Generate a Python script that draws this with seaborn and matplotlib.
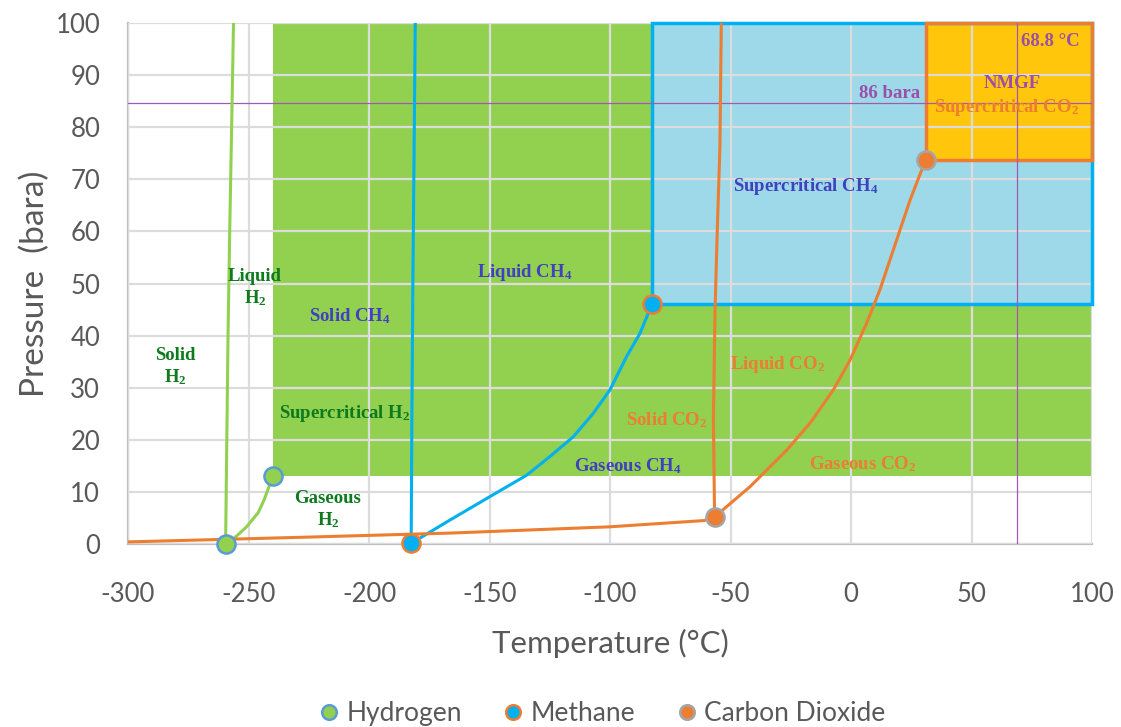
import numpy as np
import pandas as pd
import matplotlib
matplotlib.use("Agg")
import matplotlib.pyplot as plt
import seaborn as sns
from matplotlib.patches import Rectangle
from matplotlib.lines import Line2D

# ---------------- data ----------------
substances = ["Hydrogen", "Methane", "Carbon Dioxide"]

h2_melt_T = [-259.5, -259.0, -258.5, -257.8, -257.0, -256.2]
h2_melt_P = [0.07, 20, 40, 60, 80, 100.5]
h2_vap_T = [-259.3, -255.0, -250.8, -246.0, -243.5, -241.5, -240.0]
h2_vap_P = [0.07, 1.5, 3.3, 6.0, 8.5, 11.0, 13.0]

ch4_melt_T = [-182.5, -182.2, -181.8, -181.3, -180.8]
ch4_melt_P = [0.12, 25, 50, 75, 100.5]
ch4_vap_T = [-182.5, -166.4, -149.8, -134.6, -124.9, -115.2, -106.9, -100.0, -93.1, -87.6, -82.6]
ch4_vap_P = [0.12, 4.6, 9.1, 13.2, 16.8, 20.6, 25.1, 29.6, 36.0, 40.4, 46.0]

co2_sub_T = [-300, -227, -166, -100, -61, -56.6]
co2_sub_P = [0.4, 1.3, 2.1, 3.3, 4.5, 5.2]
co2_melt_T = [-56.6, -57.1, -56.4, -55.5, -54.4, -53.8]
co2_melt_P = [5.2, 24, 45, 60, 76, 100.5]
co2_vap_T = [-56.6, -41.9, -26.7, -17.0, -7.3, -0.4, 6.5, 12.0, 18.9, 24.5, 31.0]
co2_vap_P = [5.2, 11.0, 18.0, 23.2, 29.6, 35.3, 42.4, 48.8, 58.3, 66.0, 73.8]

triple_T = [-259.3, -182.5, -56.6]
triple_P = [0.07, 0.12, 5.2]
crit_T = [-240.0, -82.6, 31.0]
crit_P = [13.0, 46.0, 73.8]

ref_P = 84.7     # "86 bara" line as drawn
ref_T = 68.7     # "68.8 °C" line

x_ticks = [-300, -250, -200, -150, -100, -50, 0, 50, 100]
y_ticks = [0, 10, 20, 30, 40, 50, 60, 70, 80, 90, 100]

region_labels = ["Liquid\nH$_2$", "Solid\nH$_2$", "Supercritical H$_2$", "Gaseous\nH$_2$",
                 "Solid CH$_4$", "Liquid CH$_4$", "Supercritical CH$_4$", "Gaseous CH$_4$",
                 "Solid CO$_2$", "Liquid CO$_2$", "Gaseous CO$_2$",
                 "NMGF", "Supercritical CO$_2$", "86 bara", "68.8 °C"]
label_T = [-247.3, -280.5, -210, -217, -207.9, -135.3, -18.7, -92.5,
           -76.3, -30.3, 5, 66.8, 64.7, 15.8, 82.6]
label_P = [49.1, 34.0, 25.1, 6.5, 43.8, 52.2, 68.7, 15.0,
           23.8, 34.5, 15.4, 88.3, 83.7, 86.4, 96.4]
label_group = ["H2", "H2", "H2", "H2", "CH4", "CH4", "CH4", "CH4",
               "CO2", "CO2", "CO2", "ref", "CO2", "ref", "ref"]

# ---------------- style ----------------
GREEN = "#92D050"
BLUE = "#00B0F0"
ORANGE = "#ED7D31"
GRAY = "#A5A5A5"
LIGHTBLUE = "#9DD9E8"
GOLD = "#FFC60B"
PURPLE = "#A05AB4"
TXT = "#595959"
label_colors = {"H2": "#0E7A1E", "CH4": "#4141C0", "CO2": ORANGE, "ref": "#9B4FA8"}

sns.set_theme(style="white")
plt.rcParams["font.family"] = ["Lato", "DejaVu Sans"]
plt.rcParams["mathtext.fontset"] = "custom"
plt.rcParams["mathtext.rm"] = "Liberation Serif:bold"
plt.rcParams["mathtext.it"] = "Liberation Serif:bold"
plt.rcParams["mathtext.bf"] = "Liberation Serif:bold"
plt.rcParams["mathtext.default"] = "rm"

fig = plt.figure(figsize=(11.21, 7.27), dpi=100)
ax = fig.add_axes([128 / 1121, 1 - 544 / 727, (1092 - 128) / 1121, (544 - 23) / 727])

# ---------------- curves ----------------
rows = []
def add(T, P, sub, branch):
    for t, p in zip(T, P):
        rows.append({"T": t, "P": p, "substance": sub, "branch": branch})

add(h2_melt_T, h2_melt_P, "Hydrogen", "h2m")
add(h2_vap_T, h2_vap_P, "Hydrogen", "h2v")
add(ch4_melt_T, ch4_melt_P, "Methane", "ch4m")
add(ch4_vap_T, ch4_vap_P, "Methane", "ch4v")
add(co2_sub_T, co2_sub_P, "Carbon Dioxide", "co2s")
add(co2_melt_T, co2_melt_P, "Carbon Dioxide", "co2m")
add(co2_vap_T, co2_vap_P, "Carbon Dioxide", "co2v")
df = pd.DataFrame(rows)

palette = {"Hydrogen": GREEN, "Methane": BLUE, "Carbon Dioxide": ORANGE}

# ---------------- region fills from critical points ----------------
xmax, ymax = x_ticks[-1], y_ticks[-1]
fills = [GREEN, LIGHTBLUE, GOLD]
edges = [None, BLUE, ORANGE]
for i in range(3):
    w, h = xmax - crit_T[i], ymax - crit_P[i]
    ax.add_patch(Rectangle((crit_T[i], crit_P[i]), w, h, facecolor=fills[i],
                           edgecolor="none", zorder=0.3 + 0.05 * i))
    if edges[i] is not None:
        ax.add_patch(Rectangle((crit_T[i], crit_P[i]), w, h, facecolor="none",
                               edgecolor=edges[i], linewidth=2.5, zorder=2.6 + 0.05 * i,
                               clip_on=False))

sns.lineplot(data=df, x="T", y="P", hue="substance", units="branch", estimator=None,
             sort=False, palette=palette, linewidth=2.2, legend=False, ax=ax, zorder=3)

# reference lines
ax.axhline(ref_P, color=PURPLE, linewidth=0.9, zorder=2.8)
ax.axvline(ref_T, color=PURPLE, linewidth=0.9, zorder=2.8)

# ---------------- markers ----------------
edge = {"Hydrogen": "#5B9BD5", "Methane": ORANGE, "Carbon Dioxide": GRAY}
pts = pd.DataFrame({"T": triple_T + crit_T, "P": triple_P + crit_P,
                    "substance": substances + substances})
for s in substances:
    sub = pts[pts["substance"] == s]
    sns.scatterplot(data=sub, x="T", y="P", color=palette[s], edgecolor=edge[s],
                    linewidth=1.8, s=170, ax=ax, zorder=4, clip_on=False, legend=False)

# ---------------- texts ----------------
for txt, tx, py, g in zip(region_labels, label_T, label_P, label_group):
    ax.text(tx, py, txt, ha="center", va="center", multialignment="center",
            color=label_colors[g], fontsize=13.5, fontweight="bold",
            family="Liberation Serif", linespacing=1.25, zorder=5)

# ---------------- axes ----------------
ax.set_xlim(x_ticks[0], x_ticks[-1])
ax.set_ylim(y_ticks[0], y_ticks[-1])
ax.set_xticks(x_ticks)
ax.set_yticks(y_ticks)
ax.set_xticklabels([str(v) for v in x_ticks])
ax.set_yticklabels([str(v) for v in y_ticks])
ax.set_axisbelow(False)
ax.grid(True, color="#DCDCDC", linewidth=1.6)
ax.tick_params(axis="both", length=0, labelsize=18.5, colors=TXT)
ax.tick_params(axis="y", pad=20)
ax.tick_params(axis="x", pad=27)
for side in ["top", "right"]:
    ax.spines[side].set_visible(False)
for side in ["left", "bottom"]:
    ax.spines[side].set_color("#BFBFBF")
    ax.spines[side].set_linewidth(1.6)
ax.set_xlabel("Temperature (°C)", fontsize=22.5, color=TXT, labelpad=16)
ax.set_ylabel("Pressure  (bara)", fontsize=24, color=TXT, labelpad=4)

handles = [Line2D([], [], marker="o", linestyle="none", markersize=10.5,
                  markerfacecolor=palette[s], markeredgecolor=edge[s],
                  markeredgewidth=1.8) for s in substances]
fig.legend(handles, substances, loc="center", bbox_to_anchor=(0.534, 0.018),
           ncol=3, frameon=False, fontsize=19, labelcolor=TXT,
           handletextpad=0.0, columnspacing=1.3, handlelength=1.3)

fig.savefig("out.png", dpi=100)
